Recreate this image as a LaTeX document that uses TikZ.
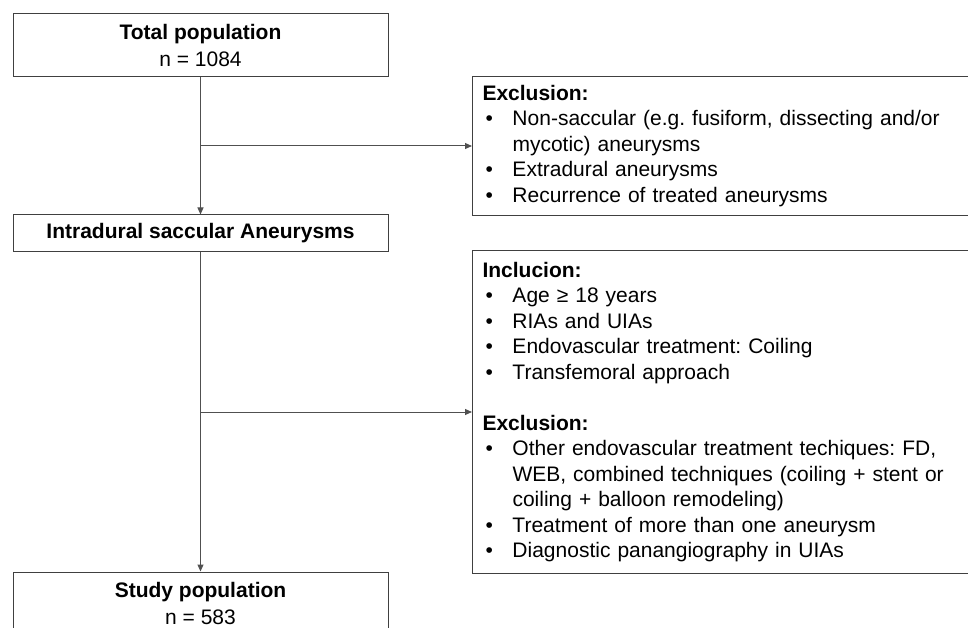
\documentclass[tikz,border=0pt]{standalone}
\usepackage{fontspec}
\setmainfont{Liberation Sans}
\usetikzlibrary{arrows.meta}
\newcommand{\bitem}[1]{\hspace*{3pt}\makebox[27pt][l]{\textbullet}#1}
\newcommand{\bcont}[1]{\hspace*{30pt}#1}
\definecolor{edgegray}{HTML}{404040}
\definecolor{linegray}{HTML}{505050}
\frenchspacing
\begin{document}
\frenchspacing
\begin{tikzpicture}[x=1pt,y=-1pt,
  mainbox/.style={draw=edgegray, line width=1pt, minimum width=375pt, inner sep=0pt,
     align=center, font=\fontsize{21}{27}\selectfont\frenchspacing},
  sidebox/.style={draw=edgegray, line width=1pt, anchor=north west, text width=490pt,
     inner xsep=10pt, inner ysep=0pt, align=left, font=\fontsize{21}{25.5}\selectfont\frenchspacing},
  arr/.style={draw=linegray, line width=1pt, -{Triangle[length=7pt,width=6pt]}},
  ln/.style={draw=linegray, line width=1pt}]
\useasboundingbox (0,0) rectangle (968,628);
\clip (0,0) rectangle (968,628);

\node[mainbox, minimum height=63pt] (total) at (200.5,45.5)
  {\textbf{Total population}\\n = 1084};
\node[mainbox, minimum height=36pt] (intra) at (200.5,233)
  {\textbf{Intradural saccular Aneurysms}};
\node[mainbox, minimum height=63pt] (study) at (200.5,603.5)
  {\textbf{Study population}\\n = 583};

\node[sidebox, minimum height=139pt] (exA) at (472,76)
  {\textbf{Exclusion:}\\
   \bitem{Non-saccular (e.g. fusiform, dissecting and/or}\\
   \bcont{mycotic) aneurysms}\\
   \bitem{Extradural aneurysms}\\
   \bitem{Recurrence of treated aneurysms}};

\node[sidebox, minimum height=323pt] (exB) at (472,250)
  {\textbf{Inclucion:}\\
   \bitem{Age ≥ 18 years}\\
   \bitem{RIAs and UIAs}\\
   \bitem{Endovascular treatment: Coiling}\\
   \bitem{Transfemoral approach}\\[25.5pt]
   \textbf{Exclusion:}\\
   \bitem{Other endovascular treatment techiques: FD,}\\
   \bcont{WEB, combined techniques (coiling + stent or}\\
   \bcont{coiling + balloon remodeling)}\\
   \bitem{Treatment of more than one aneurysm}\\
   \bitem{Diagnostic panangiography in UIAs}};

\coordinate (jA) at (total.south |- exA.west);
\coordinate (jB) at (intra.south |- exB.west);

\draw[arr] (total.south) -- (intra.north);
\draw[arr] (jA) -- (exA.west);
\draw[arr] (intra.south) -- (study.north);
\draw[arr] (jB) -- (exB.west);
\end{tikzpicture}
\end{document}
